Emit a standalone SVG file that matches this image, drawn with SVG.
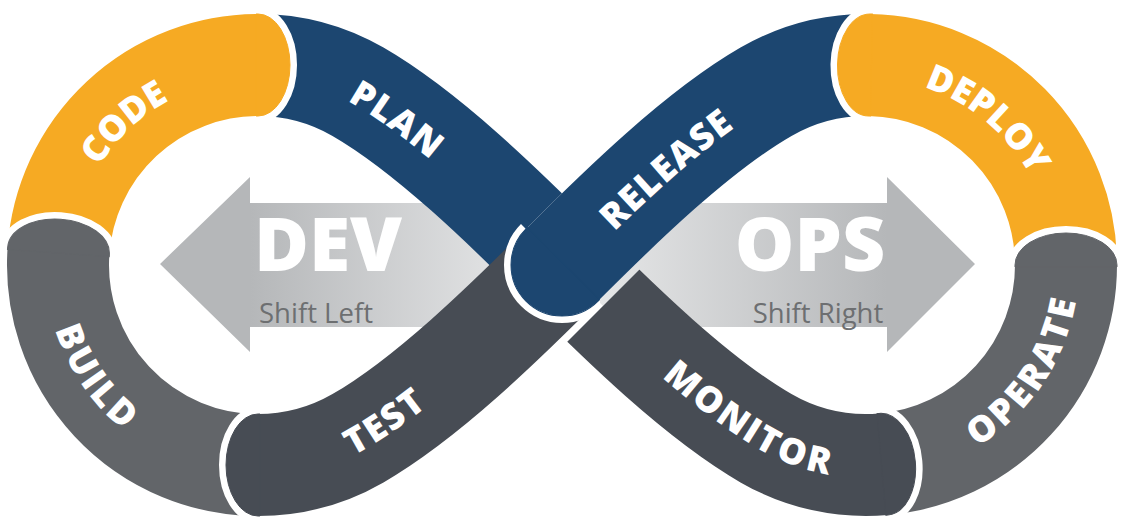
<svg xmlns="http://www.w3.org/2000/svg" width="1123" height="520" viewBox="0 0 1123 520">
<style>
.band{fill:none;stroke-linecap:butt;stroke-width:102}
.orange{stroke:#F6AA23;color:#F6AA23}
.navy{stroke:#1C4670;color:#1C4670}
.gray{stroke:#626569;color:#626569}
.slate{stroke:#474C54;color:#474C54}
.lbl{font-family:"Open Sans","Liberation Sans",Arial,sans-serif;font-weight:800;font-size:36px;fill:#FFFFFF;letter-spacing:1.5px;text-anchor:middle}
.big{font-family:"Open Sans","Liberation Sans",Arial,sans-serif;font-weight:800;font-size:75px;fill:#FFFFFF;text-anchor:middle}
.sub{font-family:"Open Sans","Liberation Sans",Arial,sans-serif;font-weight:400;font-size:27.5px;fill:#6D6F71;text-anchor:middle}
</style>
<defs>
<linearGradient id="gDev" gradientUnits="userSpaceOnUse" x1="250" y1="0" x2="520" y2="0">
<stop offset="0" stop-color="#B5B7B9"/><stop offset="1" stop-color="#E5E6E7"/>
</linearGradient>
<linearGradient id="gOps" gradientUnits="userSpaceOnUse" x1="600" y1="0" x2="887" y2="0">
<stop offset="0" stop-color="#E5E6E7"/><stop offset="1" stop-color="#B5B7B9"/>
</linearGradient>
<g id="cap"><path d="M0,-51 A32,51 0 0 0 0,51" fill="none" stroke="#FFFFFF" stroke-width="14"/><path d="M2,-51 L0,-51 A32,51 0 0 0 0,51 L2,51 Z" fill="currentColor"/></g>
<g id="capR"><path d="M0,-51 A51,51 0 0 0 0,51" fill="none" stroke="#FFFFFF" stroke-width="14"/><path d="M2,-51 L0,-51 A51,51 0 0 0 0,51 L2,51 Z" fill="currentColor"/></g>
<clipPath id="clipMon"><polygon points="909,0 1123,0 1123,520 389,520"/></clipPath>
<path id="lp-code" d="M59.49,240.63 A200,200 0 0 1 247.53,65.27"/>
<path id="lp-plan" d="M258,65 A200,200 0 0 1 358,91.79 C427.28,131.79 505.43,208.43 562,265"/>
<path id="lp-build" d="M58.76,247.57 A200,200 0 0 0 202.87,457.25"/>
<path id="lp-test" d="M258,465 A200,200 0 0 0 358,438.21 C427.28,398.21 505.43,321.57 562,265"/>
<path id="lp-release" d="M562,265 C618.57,208.43 696.72,131.79 766,91.79 A200,200 0 0 1 869.49,65.03"/>
<path id="lp-deploy" d="M866,65 A200,200 0 0 1 1062.96,230.27"/>
<path id="lp-operate" d="M921.13,457.25 A200,200 0 0 0 1064.9,244.1"/>
<path id="lp-monitor" d="M562,265 C618.57,321.57 696.72,398.21 766,438.21 A200,200 0 0 0 883.43,464.24"/>
</defs>

<g id="arrow-dev">
<polygon points="160,264 250,177 250,203 530,203 530,327 250,327 250,352" fill="url(#gDev)"/>
<text class="big" x="328" y="271">DEV</text>
<text class="sub" x="316" y="323">Shift Left</text>
</g>
<g id="arrow-ops">
<polygon points="975,264 887,177 887,203 600,203 600,327 887,327 887,352" fill="url(#gOps)"/>
<text class="big" x="810" y="271">OPS</text>
<text class="sub" x="818" y="323">Shift Right</text>
</g>

<g id="connectors"></g>

<g id="plan">
<path class="band navy" d="M562,265 C505.43,208.43 427.28,131.79 358,91.79 A200,200 0 0 0 258,65"/>
<text class="lbl"><textPath href="#lp-plan" startOffset="41%"><tspan dy="13">PLAN</tspan></textPath></text>
</g>
<g id="code">
<path class="band orange" d="M258,65 A200,200 0 0 0 58.49,251.05"/>
<use href="#cap" class="orange" transform="translate(258,65) rotate(180)"/>
<text class="lbl"><textPath href="#lp-code" startOffset="50%"><tspan dy="13">CODE</tspan></textPath></text>
</g>
<g id="build">
<path class="band gray" d="M58.49,251.05 A200,200 0 0 0 258,465"/>
<use href="#cap" class="gray" transform="translate(58.49,251.05) rotate(94)"/>
<text class="lbl"><textPath href="#lp-build" startOffset="50%"><tspan dy="13">BUILD</tspan></textPath></text>
</g>
<g id="test">
<path class="band slate" d="M258,465 A200,200 0 0 0 358,438.21 C427.28,398.21 505.43,321.57 562,265"/>
<use href="#cap" class="slate" transform="translate(258,465)"/>
<text class="lbl"><textPath href="#lp-test" startOffset="36.5%"><tspan dy="13">TEST</tspan></textPath></text>
</g>
<g id="release">
<path class="band" stroke="#FFFFFF" stroke-width="116" d="M562,265 C618.57,208.43 696.72,131.79 766,91.79 A200,200 0 0 1 869.49,65.03"/>
<path class="band navy" d="M562,265 C618.57,208.43 696.72,131.79 766,91.79 A200,200 0 0 1 869.49,65.03"/>
<use href="#capR" class="navy" transform="translate(562,265) rotate(-45)"/>
<text class="lbl"><textPath href="#lp-release" startOffset="37.7%"><tspan dy="13">RELEASE</tspan></textPath></text>
</g>
<g id="deploy">
<path class="band orange" d="M869.49,65.03 A200,200 0 0 1 1066,265"/>
<use href="#cap" class="orange" transform="translate(869.49,65.03) rotate(1)"/>
<text class="lbl"><textPath href="#lp-deploy" startOffset="50%"><tspan dy="13">DEPLOY</tspan></textPath></text>
</g>
<g id="operate">
<path class="band gray" d="M1066,265 A200,200 0 0 1 883.43,464.24"/>
<use href="#cap" class="gray" transform="translate(1066,265) rotate(90)"/>
<text class="lbl"><textPath href="#lp-operate" startOffset="50%"><tspan dy="13">OPERATE</tspan></textPath></text>
</g>
<g id="monitor" clip-path="url(#clipMon)">
<path class="band slate" d="M883.43,464.24 A200,200 0 0 1 766,438.21 C696.72,398.21 618.57,321.57 562,265"/>
<use href="#cap" class="slate" transform="translate(883.43,464.24) rotate(175)"/>
<text class="lbl"><textPath href="#lp-monitor" startOffset="62.5%"><tspan dy="13">MONITOR</tspan></textPath></text>
</g>
</svg>
